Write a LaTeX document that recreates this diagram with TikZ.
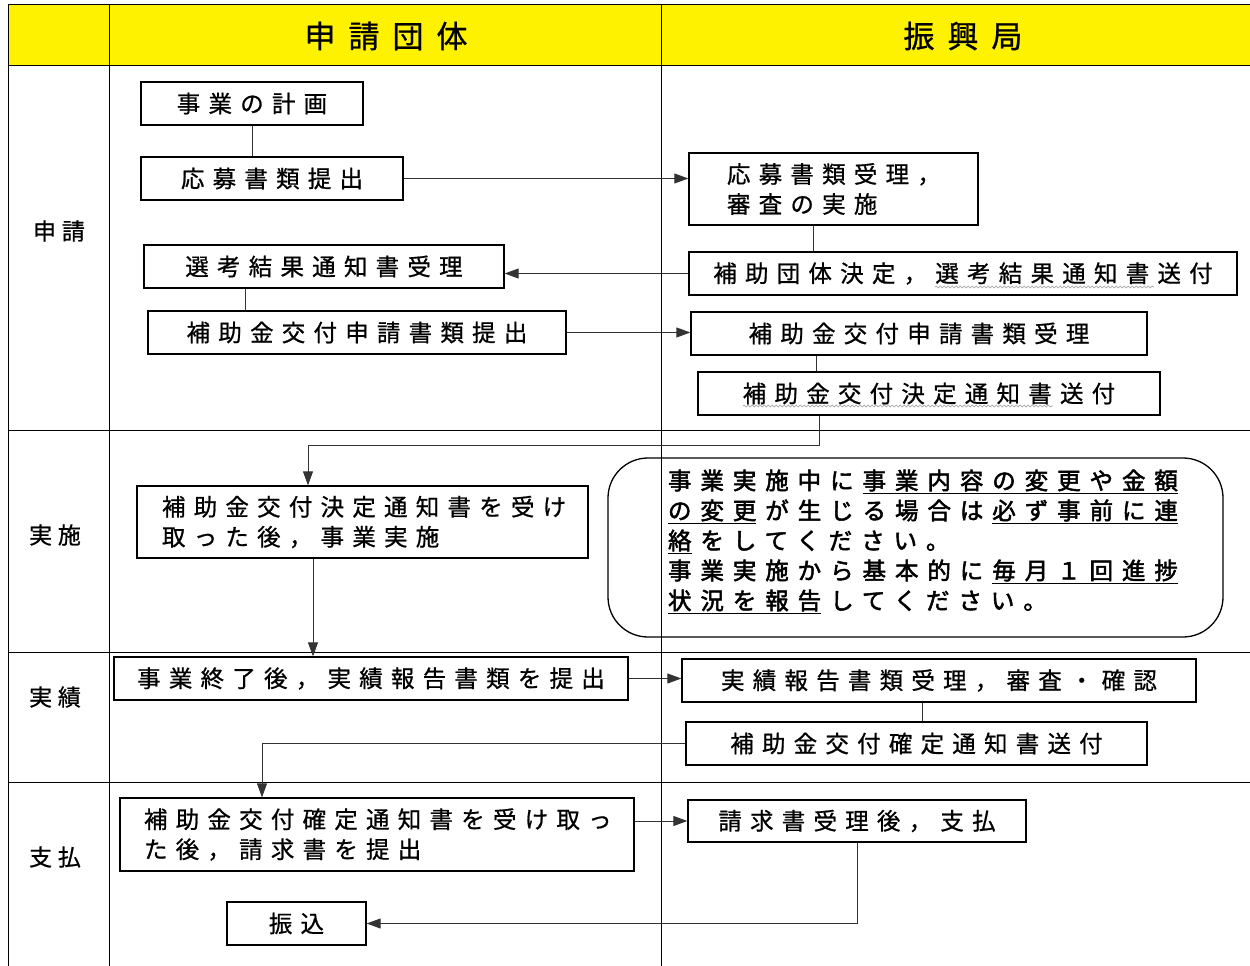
\documentclass[tikz,border=0pt]{standalone}
\usepackage{fontspec}
\setmainfont{Noto Sans CJK JP}[LetterSpace=35, FakeBold=0.8]
\usetikzlibrary{arrows.meta,decorations.pathmorphing}
\newlength{\lspgap}
\setlength{\lspgap}{8.93pt}
\newcommand{\ulA}[1]{\kern\lspgap\underline{#1}\kern\lspgap}
\newcommand{\ulB}[1]{\underline{#1}\kern\lspgap}
\tikzset{
  grid/.style={line width=1pt, draw=black},
  boxn/.style={draw, line width=1.3pt, inner sep=0pt, font=\fontsize{23.5}{30}\selectfont},
  mbox/.style={boxn, align=left},
  conn/.style={draw=black!80, line width=0.9pt},
  arr/.style={conn, -{Triangle[length=14pt,width=10pt]}},
  hdr/.style={font=\fontsize{31}{31}\selectfont\addfontfeature{LetterSpace=42}},
  rowl/.style={font=\fontsize{23}{23}\selectfont\addfontfeature{LetterSpace=25}},
  wavy/.style={draw=black!40, line width=0.6pt, decorate, decoration={snake, amplitude=0.9pt, segment length=4pt}}
}
\begin{document}
\begin{tikzpicture}[x=1pt,y=-1pt]
\useasboundingbox (0,0) rectangle (1250,966);
% table
\fill[yellow] (8,5) rectangle (1250,66);
\draw[grid] (8,5) -- (1250,5);
\draw[grid] (8,66) -- (1250,66);
\draw[grid] (8,5) -- (8,966);
\draw[grid] (109,5) -- (109,966);
\draw[grid] (661,5) -- (661,966);
\draw[grid] (8,430) -- (1250,430);
\draw[grid] (8,652) -- (1250,652);
\draw[grid] (8,782) -- (1250,782);
% headers
\node[hdr] (h1) at (386,36) {申請団体};
\node[hdr] (h2) at (963,36) {振興局};
% row labels
\node[rowl] (l1) at (59,231) {申請};
\node[rowl] (l2) at (55,535) {実施};
\node[rowl] (l3) at (55,697) {実績};
\node[rowl] (l4) at (55,857) {支払};
% left column boxes
\node[boxn, minimum width=222, minimum height=43] (b1) at (252,103.5) {事業の計画};
\node[boxn, minimum width=262, minimum height=43] (b2) at (272,178.5) {応募書類提出};
\node[boxn, minimum width=360, minimum height=43] (b3) at (324,266.5) {選考結果通知書受理};
\node[boxn, minimum width=418, minimum height=43] (b4) at (357,332.5) {補助金交付申請書類提出};
\node[mbox, inner xsep=25pt, text width=401pt, minimum height=72] (b5) at (362.5,522) {補助金交付決定通知書を受け\\取った後，事業実施};
\node[boxn, minimum width=514, minimum height=43] (b6) at (371,678.5) {事業終了後，実績報告書類を提出};
\node[mbox, inner xsep=24pt, text width=466pt, minimum height=73] (b7) at (377,834.5) {補助金交付確定通知書を受け取っ\\た後，請求書を提出};
\node[boxn, minimum width=139, minimum height=43] (b8) at (296.5,923.5) {振込};
% right column boxes
\node[mbox, inner xsep=38pt, text width=213pt, minimum height=72] (r1) at (833.5,189) {応募書類受理，\\審査の実施};
\node[boxn, minimum width=548, minimum height=43] (r2) at (963,273.5) {補助団体決定，選考結果通知書送付};
\node[boxn, minimum width=456, minimum height=43] (r3) at (919,333.5) {補助金交付申請書類受理};
\node[boxn, minimum width=462, minimum height=43] (r4) at (929,393.5) {補助金交付決定通知書送付};
\node[mbox, rounded corners=40pt, inner xsep=60pt, text width=495pt, minimum height=179, font=\fontsize{23.5}{30}\selectfont\addfontfeature{LetterSpace=38, FakeBold=2.2}] (note) at (915.5,547.5)
 {事業実施中に\ulA{事業内容の変更や金額}\\
  \ulB{の変更}が生じる場合は\ulA{必ず事前に連}\\
  \ulB{絡}をしてください。\\
  事業実施から基本的に\ulA{毎月１回進捗}\\
  \ulB{状況を報告}してください。\\[-14pt]\mbox{}};
\node[boxn, minimum width=514, minimum height=43] (r5) at (939,680.5) {実績報告書類受理，審査・確認};
\node[boxn, minimum width=461, minimum height=43] (r6) at (916.5,743.5) {補助金交付確定通知書送付};
\node[boxn, minimum width=338, minimum height=42] (r7) at (857,821) {請求書受理後，支払};
% spell-check marks
\draw[wavy] (935,287) -- (1154,287);
\draw[wavy] (743,406) -- (1053,406);
% connectors
\draw[conn] (b1.south) -- (b1.south |- b2.north);
\draw[arr] (b2.east) -- (b2.east -| r1.west);
\draw[conn] ([xshift=-20.5pt]r1.south) -- ([xshift=-20.5pt]r1.south |- r2.north);
\draw[arr] (r2.west) -- (r2.west -| b3.east);
\draw[conn] ([xshift=-79pt]b3.south) -- ([xshift=-79pt]b3.south |- b4.north);
\draw[arr] (b4.east) -- (b4.east -| r3.west);
\draw[conn] ([xshift=-103pt]r3.south) -- ([xshift=-103pt]r3.south |- r4.north);
\draw[arr] ([xshift=-110pt]r4.south) -- ++(0,30) -| ([xshift=-54.5pt]b5.north);
\draw[arr] ([xshift=-49.5pt]b5.south) -- ([xshift=-49.5pt]b5.south |- b6.north);
\draw[arr] (b6.east) -- (b6.east -| r5.west);
\draw[conn] ([xshift=-17pt]r5.south) -- ([xshift=-17pt]r5.south |- r6.north);
\draw[arr] (r6.west) -| ([xshift=-115pt]b7.north);
\draw[arr] (b7.east |- r7.west) -- (r7.west);
\draw[arr] (r7.south) |- (b8.east);
\end{tikzpicture}
\end{document}
